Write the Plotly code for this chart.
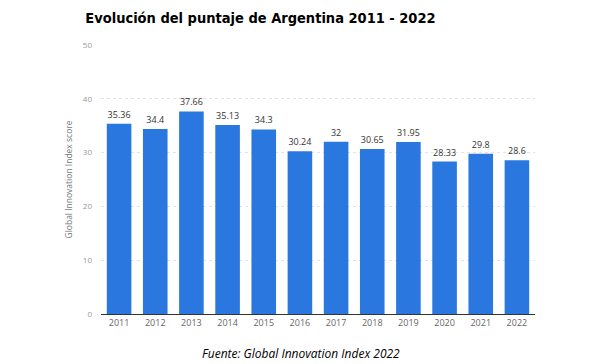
import plotly.graph_objects as go

years = ["2011", "2012", "2013", "2014", "2015", "2016", "2017", "2018", "2019", "2020", "2021", "2022"]
scores = [35.36, 34.4, 37.66, 35.13, 34.3, 30.24, 32, 30.65, 31.95, 28.33, 29.8, 28.6]
labels = ["35.36", "34.4", "37.66", "35.13", "34.3", "30.24", "32", "30.65", "31.95", "28.33", "29.8", "28.6"]
y_ticks = [0, 10, 20, 30, 40, 50]

fig = go.Figure(go.Bar(
    x=years, y=scores, text=labels, textposition="outside",
    textfont=dict(size=9, color="#333333", family="Open Sans"),
    marker=dict(color="#2A77DF", line=dict(width=0)),
    cliponaxis=False,
))

fig.update_layout(
    width=594, height=356,
    margin=dict(l=93, r=67, t=37, b=50),
    plot_bgcolor="white", paper_bgcolor="white",
    bargap=0.32,
    showlegend=False,
    title=dict(text="<b>Evolución del puntaje de Argentina 2011 - 2022</b>",
               x=0.425, xanchor="center", y=0.972, yanchor="middle",
               font=dict(family="DejaVu Sans Condensed", size=14.5, color="black")),
    xaxis=dict(showline=True, linecolor="#333333", linewidth=1, ticks="",
               tickfont=dict(size=9, color="#666666", family="Open Sans")),
    yaxis=dict(range=[0, 50], tickvals=y_ticks, showgrid=True, gridcolor="#e3e3e3",
               griddash="dot", zeroline=False, ticks="", ticklabelstandoff=8,
               tickfont=dict(size=8, color="#999999", family="Open Sans"),
               title=dict(text="Global Innovation Index score", standoff=8,
                          font=dict(size=8.5, color="#777777", family="Open Sans"))),
    annotations=[dict(text="<i>Fuente: Global Innovation Index 2022</i>",
                      xref="paper", yref="paper", x=0.461, y=-0.145,
                      xanchor="center", yanchor="middle", showarrow=False,
                      font=dict(size=12, color="black", family="Open Sans"))],
)

fig.write_html("out.html")
